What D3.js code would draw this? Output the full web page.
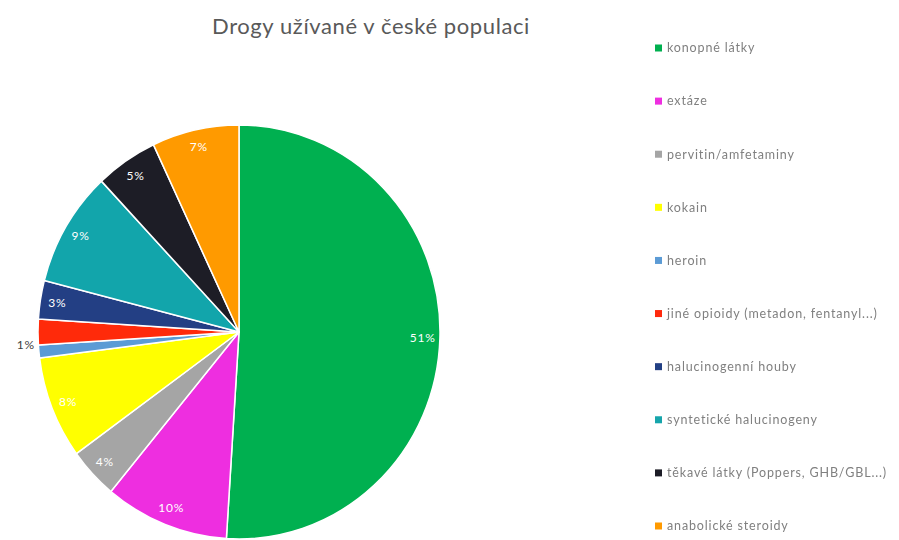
<!DOCTYPE html>
<html>
<head>
<meta charset="utf-8">
<script src="https://cdn.jsdelivr.net/npm/d3@7"></script>
<style>
  html, body { margin: 0; padding: 0; background: #fff; }
  svg { display: block; }
</style>
</head>
<body>
<svg id="chart" width="899" height="540"></svg>
<script>
// Drug use shares in the Czech population
const categories = [
  "konopné látky",
  "extáze",
  "pervitin/amfetaminy",
  "kokain",
  "heroin",
  "jiné opioidy (metadon, fentanyl...)",
  "halucinogenní houby",
  "syntetické halucinogeny",
  "těkavé látky (Poppers, GHB/GBL...)",
  "anabolické steroidy"
];
const values = [51, 10, 4, 8, 1, 2, 3, 9, 5, 7];
const colors = [
  "#00b050", "#ee2ee0", "#a5a5a5", "#ffff00", "#5b9bd5",
  "#ff2a0a", "#233f84", "#12a5ab", "#1d1d26", "#ff9a00"
];
// Which slices carry a percentage label
const showLabel = [true, true, true, true, true, false, true, true, true, true];
const title = "Drogy užívané v české populaci";

const svg = d3.select("#chart");
const font = "Lato, 'Open Sans', sans-serif";

const defs = svg.append("defs");
defs.append("filter").attr("id", "soft")
  .append("feGaussianBlur").attr("stdDeviation", 0.45);

// Title
svg.append("text")
  .attr("x", 371)
  .attr("y", 34)
  .attr("text-anchor", "middle")
  .attr("font-family", font)
  .attr("font-size", 22)
  .attr("letter-spacing", 0.6)
  .attr("fill", "#595959")
  .text(title);

// Pie geometry (slightly taller than wide)
const cx = 239, cy = 332, rx = 201, ry = 207;
const r = rx;
const sy = ry / rx;

const data = categories.map((c, i) => ({ name: c, value: values[i], color: colors[i], show: showLabel[i] }));
const pie = d3.pie().value(d => d.value).sort(null);
const arcs = pie(data);
const arc = d3.arc().innerRadius(0).outerRadius(r);

const g = svg.append("g").attr("transform", `translate(${cx},${cy})`);
g.append("g")
  .attr("transform", `scale(1,${sy})`)
  .selectAll("path")
  .data(arcs)
  .enter().append("path")
  .attr("d", arc)
  .attr("fill", d => d.data.color)
  .attr("stroke", "#fff")
  .attr("stroke-width", 1.5)
  .attr("stroke-linejoin", "round");

// Percentage labels: inside the slice, or outside for tiny slices
const total = d3.sum(values);
g.selectAll("text.lbl")
  .data(arcs.filter(d => d.data.show))
  .enter().append("text")
  .attr("class", "lbl")
  .each(function(d) {
    const a = (d.startAngle + d.endAngle) / 2;
    const pct = Math.round(d.data.value / total * 100);
    const outside = pct < 2;
    const k = outside ? 1.02 : 0.915;
    const x = Math.sin(a) * r * k;
    const y = -Math.cos(a) * r * k * sy - (outside ? 7 : 0);
    d3.select(this)
      .attr("x", x)
      .attr("y", y)
      .attr("dy", "0.35em")
      .attr("text-anchor", outside ? "end" : "middle")
      .attr("fill", outside ? "#404040" : "#ffffff")
      .attr("font-family", font)
      .attr("font-size", 12)
      .attr("letter-spacing", 0.8)
      .text(pct + "%");
  });

// Legend
const legend = svg.append("g").attr("filter", "url(#soft)");
const ly = d3.scalePoint().domain(categories).range([48, 526]);
const items = legend.selectAll("g")
  .data(data)
  .enter().append("g")
  .attr("transform", d => `translate(655,${ly(d.name)})`);
items.append("rect")
  .attr("x", 0).attr("y", -3.5)
  .attr("width", 7).attr("height", 7)
  .attr("fill", d => d.color);
items.append("text")
  .attr("x", 12)
  .attr("dy", "0.35em")
  .attr("font-family", font)
  .attr("font-size", 12.5)
  .attr("letter-spacing", 0.85)
  .attr("fill", "#808080")
  .text(d => d.name);
</script>
</body>
</html>
